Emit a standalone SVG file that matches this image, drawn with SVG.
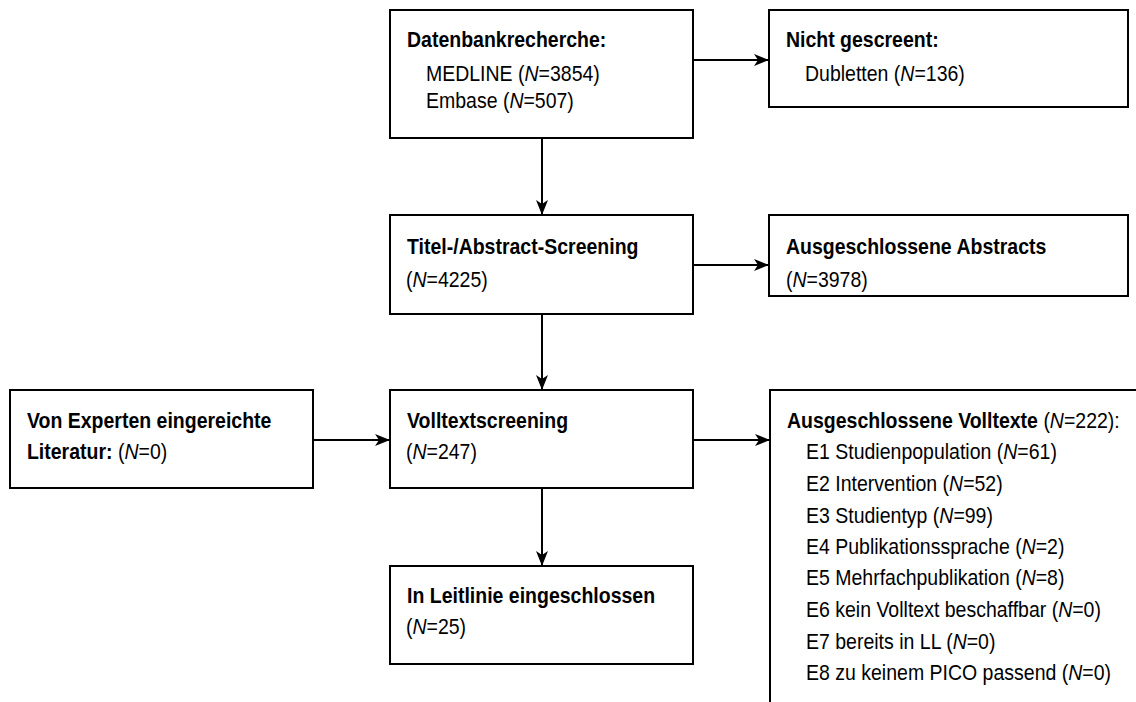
<svg xmlns="http://www.w3.org/2000/svg" width="1136" height="702" viewBox="0 0 1136 702">
<defs>
<marker id="arr" markerWidth="16" markerHeight="14" refX="15" refY="7" orient="auto" markerUnits="userSpaceOnUse">
<path d="M0,1 L15,7 L0,13 L4,7 Z" fill="#000"/>
</marker>
<style>
.box{fill:#fff;stroke:#000;stroke-width:2}
.t{font-family:"Liberation Sans",Arial,sans-serif;font-size:21.2px;fill:#000}
.b{font-weight:bold}
.i{font-style:italic}
.c{stroke:#000;stroke-width:2;fill:none;marker-end:url(#arr)}
</style>
</defs>
<rect width="1136" height="702" fill="#fff"/>
<g id="connectors">
<line class="c" x1="693" y1="60" x2="769" y2="60"/>
<line class="c" x1="542" y1="138" x2="542" y2="215"/>
<line class="c" x1="693" y1="265" x2="769" y2="265"/>
<line class="c" x1="542" y1="314" x2="542" y2="390"/>
<line class="c" x1="313" y1="440" x2="390" y2="440"/>
<line class="c" x1="693" y1="440" x2="770" y2="440"/>
<line class="c" x1="542" y1="488" x2="542" y2="566"/>
</g>
<g id="datenbank">
<rect class="box" x="390" y="10" width="303" height="128"/>
<g transform="scale(0.92 1)">
<text class="t b" x="442.4" y="47">Datenbankrecherche:</text>
<text class="t" x="463" y="81">MEDLINE (<tspan class="i">N</tspan>=3854)</text>
<text class="t" x="463" y="108">Embase (<tspan class="i">N</tspan>=507)</text>
</g>
</g>
<g id="nicht-gescreent">
<rect class="box" x="769" y="10" width="359" height="97"/>
<g transform="scale(0.92 1)">
<text class="t b" x="854.3" y="47">Nicht gescreent:</text>
<text class="t" x="875" y="81">Dubletten (<tspan class="i">N</tspan>=136)</text>
</g>
</g>
<g id="titel-abstract">
<rect class="box" x="390" y="215" width="303" height="99"/>
<g transform="scale(0.92 1)">
<text class="t b" x="442.4" y="254">Titel-/Abstract-Screening</text>
<text class="t" x="441.3" y="287">(<tspan class="i">N</tspan>=4225)</text>
</g>
</g>
<g id="ausgeschlossene-abstracts">
<rect class="box" x="769" y="215" width="359" height="81"/>
<g transform="scale(0.92 1)">
<text class="t b" x="854.3" y="254">Ausgeschlossene Abstracts</text>
<text class="t" x="854.3" y="287">(<tspan class="i">N</tspan>=3978)</text>
</g>
</g>
<g id="experten">
<rect class="box" x="10" y="390" width="303" height="98"/>
<g transform="scale(0.92 1)">
<text class="t b" x="29.3" y="428">Von Experten eingereichte</text>
<text class="t" x="29.3" y="459"><tspan class="b">Literatur:</tspan> (<tspan class="i">N</tspan>=0)</text>
</g>
</g>
<g id="volltextscreening">
<rect class="box" x="390" y="390" width="303" height="98"/>
<g transform="scale(0.92 1)">
<text class="t b" x="442.4" y="428">Volltextscreening</text>
<text class="t" x="441.3" y="459">(<tspan class="i">N</tspan>=247)</text>
</g>
</g>
<g id="ausgeschlossene-volltexte">
<rect class="box" x="770" y="390" width="380" height="330"/>
<g transform="scale(0.92 1)">
<text class="t" x="855.4" y="428"><tspan class="b">Ausgeschlossene Volltexte</tspan> (<tspan class="i">N</tspan>=222):</text>
<text class="t" x="876.1" y="459">E1 Studienpopulation (<tspan class="i">N</tspan>=61)</text>
<text class="t" x="876.1" y="491">E2 Intervention (<tspan class="i">N</tspan>=52)</text>
<text class="t" x="876.1" y="523">E3 Studientyp (<tspan class="i">N</tspan>=99)</text>
<text class="t" x="876.1" y="554">E4 Publikationssprache (<tspan class="i">N</tspan>=2)</text>
<text class="t" x="876.1" y="585">E5 Mehrfachpublikation (<tspan class="i">N</tspan>=8)</text>
<text class="t" x="876.1" y="617">E6 kein Volltext beschaffbar (<tspan class="i">N</tspan>=0)</text>
<text class="t" x="876.1" y="649">E7 bereits in LL (<tspan class="i">N</tspan>=0)</text>
<text class="t" x="876.1" y="680">E8 zu keinem PICO passend (<tspan class="i">N</tspan>=0)</text>
</g>
</g>
<g id="leitlinie">
<rect class="box" x="390" y="566" width="303" height="98"/>
<g transform="scale(0.92 1)">
<text class="t b" x="442.4" y="603">In Leitlinie eingeschlossen</text>
<text class="t" x="441.3" y="634">(<tspan class="i">N</tspan>=25)</text>
</g>
</g>
</svg>
